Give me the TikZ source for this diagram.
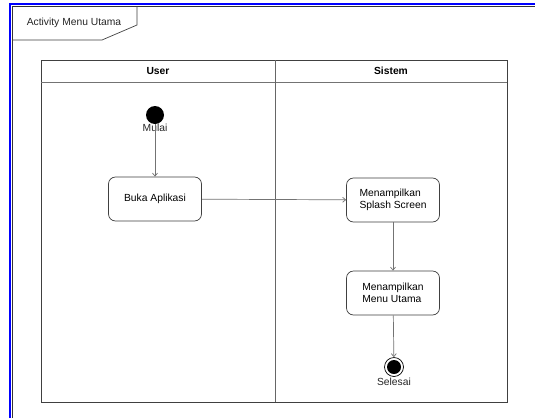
\documentclass[tikz,border=0pt]{standalone}
\usepackage{fontspec}
\setmainfont{Liberation Sans}
\usetikzlibrary{arrows.meta}
\begin{document}
\begin{tikzpicture}[x=1pt,y=-1pt,
  act/.style={draw=black!75,rounded corners=7pt,minimum width=93pt,minimum height=44pt,align=left,font=\fontsize{10.3}{12}\selectfont,line width=0.7pt},
  lane/.style={draw=black!75,line width=0.8pt},
  flow/.style={draw=black!55,line width=0.7pt,-{Straight Barb[length=3pt,width=5pt]}},
  lbl/.style={font=\fontsize{10.3}{12}\selectfont,text=black!85,inner sep=0pt}]
\useasboundingbox (0,0) rectangle (535,418);
\fill[white] (0,0) rectangle (535,418);
% frame highlight
\draw[blue,line width=2pt] (10,418) -- (10,4) -- (535,4);
\draw[black!80,line width=0.8pt] (12,418) -- (12,6) -- (535,6);
% frame label
\draw[black!75,line width=0.7pt] (12,40) -- (102,40) -- (137,25) -- (137,6);
\node[lbl] (title) at (74,23) {Activity Menu Utama};
% swimlanes
\draw[lane] (41,60) rectangle (507,402);
\draw[lane,draw=black!55] (41,82) -- (507,82);
\draw[lane,draw=black!60] (275,60) -- (275,402);
\node[font=\fontsize{10.3}{12}\selectfont\bfseries] (user) at (158,71) {User};
\node[font=\fontsize{10.3}{12}\selectfont\bfseries] (sistem) at (391,71) {Sistem};
% nodes
\node[circle,fill=black,minimum size=18pt,inner sep=0pt] (start) at (155,115) {};
\node[lbl] (mulai) at (155,128) {Mulai};
\node[act] (buka) at (155,199) {Buka Aplikasi};
\node[act] (splash) at (393,200) {Menampilkan\\Splash Screen};
\node[act] (menu) at (393,293) {Menampilkan\\Menu Utama};
\node[circle,draw=black,line width=0.7pt,fill=white,minimum size=19pt,inner sep=0pt] (end) at (394,367) {};
\node[circle,fill=black,minimum size=14pt,inner sep=0pt] at (end) {};
\node[lbl] (selesai) at (394,382) {Selesai};
% flows
\draw[flow] (start) -- (buka);
\draw[flow] (buka) -- (splash);
\draw[flow] (splash) -- (menu);
\draw[flow] (menu) -- (end);
\end{tikzpicture}
\end{document}
